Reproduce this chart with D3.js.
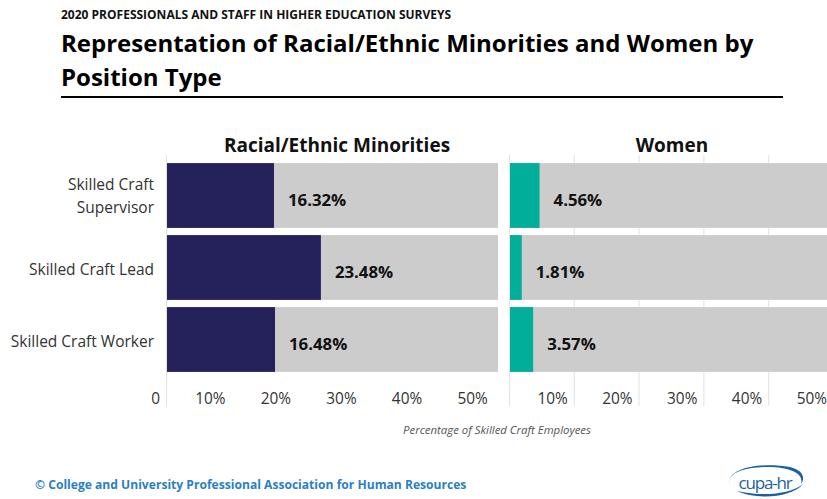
<!DOCTYPE html>
<html><head><meta charset="utf-8">
<script src="https://cdn.jsdelivr.net/npm/d3@7"></script>
<style>body{margin:0;background:#fff}svg{display:block}text{font-family:"Open Sans",sans-serif}</style>
</head><body><svg id="c" width="827" height="499"></svg>
<script>
const categories = ["Skilled Craft Supervisor", "Skilled Craft Lead", "Skilled Craft Worker"];
const categoryLines = [["Skilled Craft", "Supervisor"], ["Skilled Craft Lead"], ["Skilled Craft Worker"]];
const minorities = [16.32, 23.48, 16.48];
const women = [4.56, 1.81, 3.57];
const tickValues = [10, 20, 30, 40, 50];
const panelTitles = ["Racial/Ethnic Minorities", "Women"];

const svg = d3.select("#c");
const W = 827;

svg.append("text").attr("x", 61).attr("y", 19).attr("font-size", 12).attr("font-weight", 700).attr("fill", "#111")
  .text("2020 PROFESSIONALS AND STAFF IN HIGHER EDUCATION SURVEYS");
svg.append("text").attr("x", 61).attr("y", 52).attr("font-size", 24).attr("font-weight", 700).attr("fill", "#000")
  .text("Representation of Racial/Ethnic Minorities and Women by");
svg.append("text").attr("x", 61).attr("y", 86).attr("font-size", 24).attr("font-weight", 700).attr("fill", "#000")
  .text("Position Type");
svg.append("line").attr("x1", 61).attr("x2", 783).attr("y1", 97).attr("y2", 97).attr("stroke", "#000").attr("stroke-width", 2);

const y = d3.scaleBand().domain(categories).range([163 - 3.5, 372 + 3.5]).paddingInner(0.1).paddingOuter(0.05);

const panels = [
  {data: minorities, color: "#25215a", x: d3.scaleLinear().domain([0, 50.5]).range([167, 498]), title: panelTitles[0], grid: false, tx: 337},
  {data: women, color: "#00ae99", x: d3.scaleLinear().domain([0, 50]).range([510, 834]), title: panelTitles[1], grid: true, tx: 672}
];

panels.forEach((p) => {
  const g = svg.append("g");
  const [x0, x1] = p.x.range();
  const right = Math.min(x1, W);
  const gl = p.grid ? [0].concat(tickValues) : [0];
  g.selectAll("line.grid").data(gl).join("line")
    .attr("x1", d => p.x(d) - 0.5).attr("x2", d => p.x(d) - 0.5)
    .attr("y1", 155).attr("y2", 406).attr("stroke", "#e2e2e2").attr("stroke-width", 1);
  g.selectAll("rect.bg").data(categories).join("rect")
    .attr("x", x0).attr("y", d => y(d)).attr("width", right - x0).attr("height", y.bandwidth()).attr("fill", "#cccccc");
  g.selectAll("rect.v").data(p.data).join("rect")
    .attr("x", x0).attr("y", (d, i) => y(categories[i])).attr("width", d => p.x(d) - x0)
    .attr("height", y.bandwidth()).attr("fill", p.color);
  g.selectAll("text.v").data(p.data).join("text")
    .attr("x", d => p.x(d) + 14).attr("y", (d, i) => y(categories[i]) + y.bandwidth() / 2 + 10)
    .attr("font-size", 16.8).attr("font-weight", 700).attr("fill", "#111")
    .text(d => d.toFixed(2) + "%");
  g.selectAll("text.t").data(tickValues).join("text")
    .attr("x", d => p.x(d) - 7).attr("y", 404).attr("text-anchor", "end")
    .attr("font-size", 15.4).attr("fill", "#333").text(d => d + "%");
  g.append("text").attr("x", p.tx).attr("y", 152).attr("text-anchor", "middle")
    .attr("font-size", 19).attr("font-weight", 700).attr("fill", "#111").text(p.title);
});
svg.append("text").attr("x", 160).attr("y", 404).attr("text-anchor", "end").attr("font-size", 15.4).attr("fill", "#333").text("0");

categoryLines.forEach((lines, i) => {
  const cy = y(categories[i]) + y.bandwidth() / 2;
  const n = lines.length;
  lines.forEach((l, j) => {
    svg.append("text").attr("x", 154).attr("y", cy + 5 + (j - (n - 1) / 2) * 23 + (n > 1 ? 1 : 2))
      .attr("text-anchor", "end").attr("font-size", 15.5).attr("fill", "#333").text(l);
  });
});

svg.append("text").attr("x", 497).attr("y", 434).attr("text-anchor", "middle").attr("font-size", 11.4)
  .attr("font-style", "italic").attr("fill", "#555").text("Percentage of Skilled Craft Employees");

svg.append("text").attr("x", 35).attr("y", 489).attr("font-family", "Roboto").attr("font-size", 12.1)
  .attr("font-weight", 700).attr("fill", "#2a7fc5")
  .text("© College and University Professional Association for Human Resources");

// logo
const lg = svg.append("g");
lg.append("path").attr("d", "M731,486 C722,470 758,461 790,467 C802,470 806,477 801,484 C804,474 792,468 772,467 C746,466 724,473 731,486 Z").attr("fill", "#1a5fa8");
lg.append("path").attr("d", "M737,491 C756,500 792,498 803,484 C792,494 762,497 737,491 Z").attr("fill", "#1a5fa8");
lg.append("text").attr("x", 765).attr("y", 489).attr("text-anchor", "middle").attr("font-size", 17)
  .attr("font-family", "DejaVu Sans").attr("fill", "#1a5fa8").attr("letter-spacing", -1.2).text("cupa-hr");
</script></body></html>
